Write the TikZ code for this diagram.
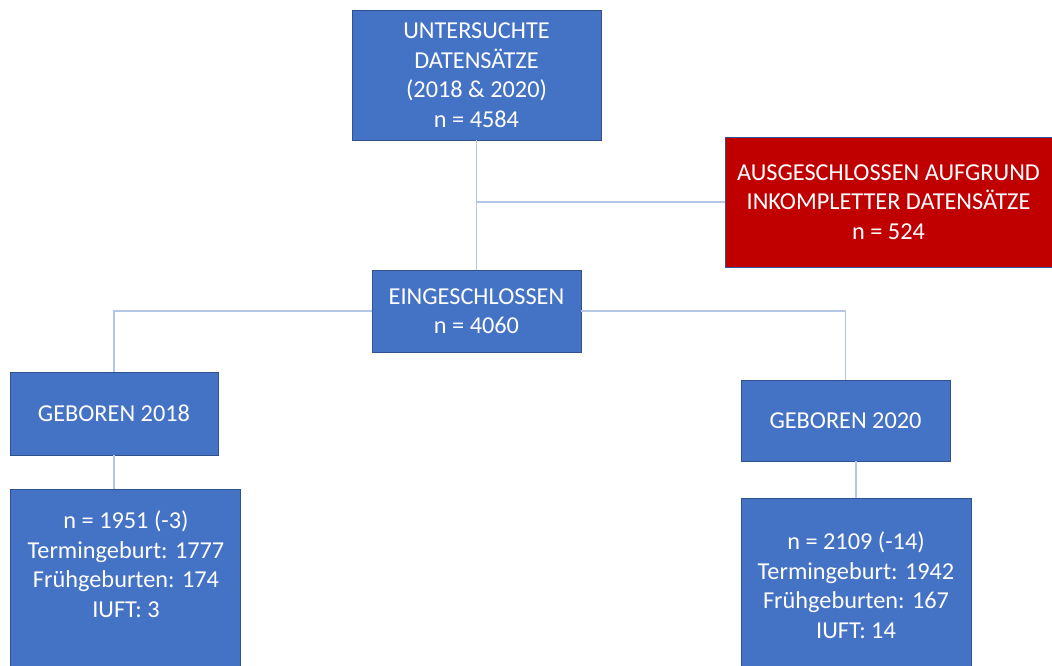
\documentclass[tikz,border=0pt]{standalone}
\usepackage{fontspec}
\setmainfont{Carlito}
\definecolor{boxblue}{HTML}{4472C4}
\definecolor{boxred}{HTML}{C00000}
\definecolor{edgeblue}{HTML}{2F528F}
\definecolor{linkblue}{HTML}{B4C7E7}
\tikzset{
  box/.style={draw=edgeblue, line width=0.8pt, fill=boxblue, text=white, align=center,
    inner sep=0pt, font=\fontsize{24.3}{29.5}\selectfont},
  redbox/.style={box, fill=boxred},
  txt/.style={text=white, align=center, inner sep=0pt, font=\fontsize{24.3}{29.5}\selectfont},
  link/.style={draw=linkblue, line width=1.1pt}
}
\begin{document}
\begin{tikzpicture}[x=1pt,y=-1pt]
\useasboundingbox (0,0) rectangle (1052,666);
\clip (0,0) rectangle (1052,666);
\fill[white] (0,0) rectangle (1052,666);

\node[box, minimum width=249pt, minimum height=130pt] (top) at (476.5,75)
  {UNTERSUCHTE\\DATENSÄTZE\\(2018 \& 2020)\\n = 4584};
\node[redbox, minimum width=327pt, minimum height=130pt] (red) at (888.5,202)
  {AUSGESCHLOSSEN AUFGRUND\\INKOMPLETTER DATENSÄTZE\\n = 524};
\node[box, minimum width=209pt, minimum height=82pt] (ein) at (476.5,311)
  {EINGESCHLOSSEN\\n = 4060};
\node[box, minimum width=208pt, minimum height=83pt] (g18) at (114,413.5)
  {GEBOREN 2018};
\node[box, minimum width=209pt, minimum height=81pt] (g20) at (845.5,420.5)
  {GEBOREN 2020};
\node[box, minimum width=230pt, minimum height=200pt, anchor=north] (b18) at (125,489) {};
\node[txt] (t18) at (126,564)
  {n = 1951 (-3)\\Termingeburt: 1777\\Frühgeburten: 174\\IUFT: 3};
\node[box, minimum width=230pt, minimum height=200pt, anchor=north] (b20) at (856,498) {};
\node[txt] (t20) at (856,585)
  {n = 2109 (-14)\\Termingeburt: 1942\\Frühgeburten: 167\\IUFT: 14};

\coordinate (j1) at (top.south |- red.west);
\draw[link] (top.south) -- (ein.north);
\draw[link] (j1) -- (red.west);
\draw[link] (ein.west) -| (g18.north);
\draw[link] (ein.east) -| (g20.north);
\draw[link] (g18.south) -- (g18.south |- b18.north);
\draw[link] (b20.north |- g20.south) -- (b20.north);
\end{tikzpicture}
\end{document}
